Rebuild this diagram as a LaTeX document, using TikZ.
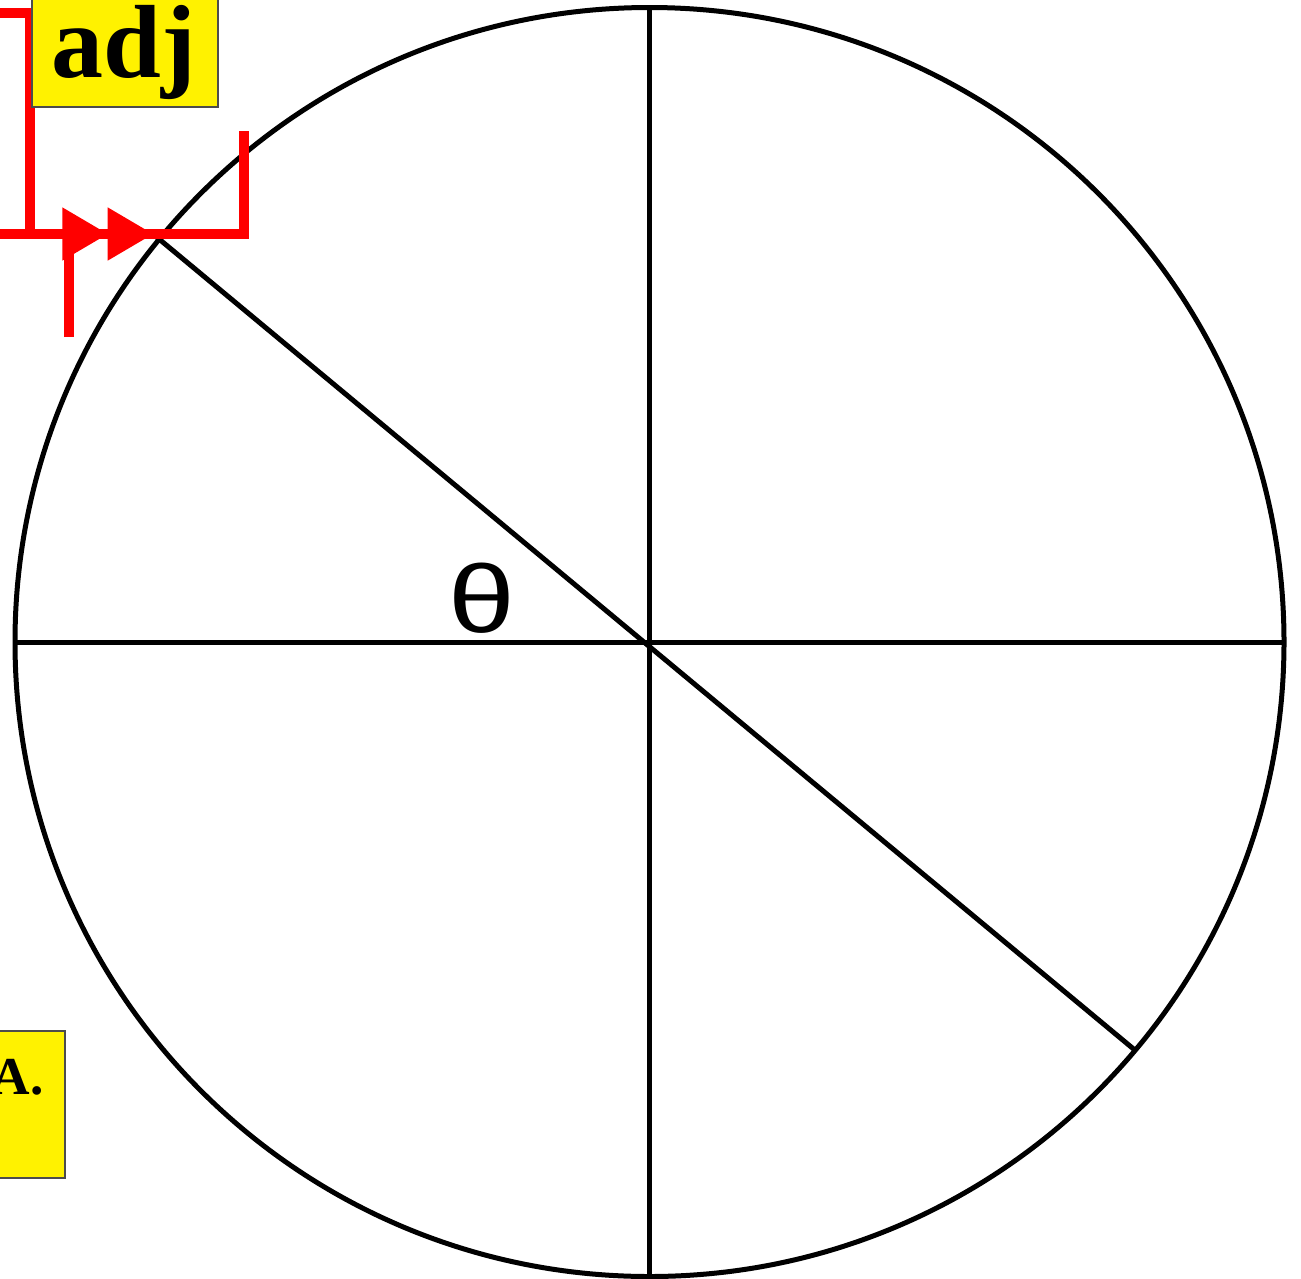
\documentclass[tikz,border=0pt]{standalone}
\usepackage{fontspec}
\usepackage{graphicx}
\newfontfamily\serifb{Liberation Serif}[BoldFont={Liberation Serif Bold}]
\newfontfamily\sansf{Liberation Sans}
\usetikzlibrary{arrows.meta}
\tikzset{
  blk/.style={line width=3.75pt, black},
  redln/.style={line width=7.5pt, red},
  ybox/.style={fill=yellow, draw=black!70, line width=0.8pt},
}
\begin{document}
\begin{tikzpicture}[x=0.75pt,y=-0.75pt]
\useasboundingbox (0,0) rectangle (1301,1278);
\coordinate (O) at (649.5,642);
\coordinate (P) at (153,234);
\coordinate (Q) at (1136,1051);
\coordinate (T) at (649.5,7);
\coordinate (B) at (649.5,1278);
\coordinate (L) at (14,642);
\coordinate (R) at (1284,642);
% circle and axes
\draw[blk] (O) circle [radius=634.5];
\draw[blk] (T) -- (B);
\draw[blk] (L) -- (R);
\draw[blk] (P) -- (Q);
% theta
\node[anchor=base, inner sep=0pt, font=\sansf\fontsize{72}{72}\selectfont] (theta) at (482,632) {\scalebox{1.25}[1]{θ}};
% red connectors
\coordinate (r1) at (-5,13);
\coordinate (r2) at (30,13);
\coordinate (r3) at (30,234);
\coordinate (r4) at (-5,234);
\coordinate (r5) at (244,234);
\coordinate (r6) at (244,131);
\coordinate (r7) at (69,337);
\coordinate (r8) at (69,236);
\coordinate (r9) at (40,234);
\draw[redln, line join=miter] (r1) -- (r2) -- (r3);
\draw[redln, line join=miter] (r4) -- (r5) -- (r6);
\draw[redln] (r7) -- (r8);
\draw[red, line width=0pt, -{Triangle[length=34pt,width=40pt]Triangle[length=34pt,width=40pt]}] (r9) -- (P);
% yellow boxes
\filldraw[ybox] (32,-5) rectangle (218,107);
\node[anchor=base, inner sep=0pt, font=\serifb\bfseries\fontsize{78}{78}\selectfont] (adj) at (124,77) {adj};
\filldraw[ybox] (-5,1031) rectangle (65,1178);
\node[anchor=base east, inner sep=0pt, font=\serifb\bfseries\fontsize{40}{40}\selectfont] (A) at (44,1094) {A.};
\end{tikzpicture}
\end{document}
